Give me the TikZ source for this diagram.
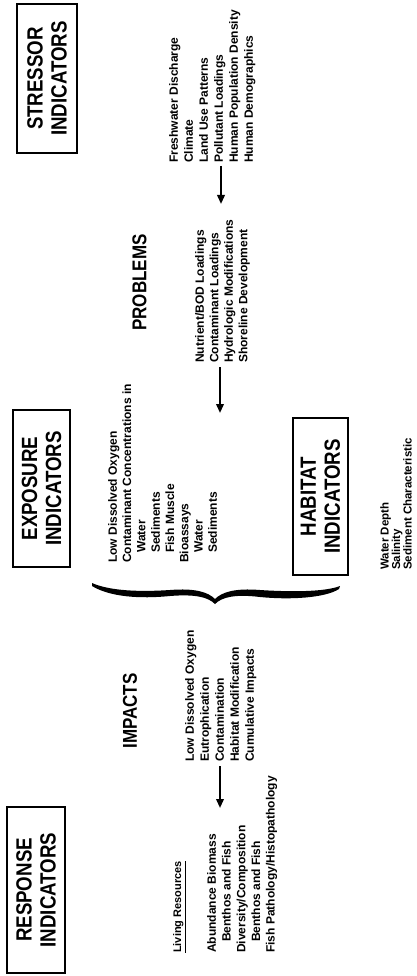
\documentclass[tikz,border=0pt]{standalone}
\usepackage{fontspec}
\setmainfont{Liberation Sans}
\newfontfamily\hdrfont{Liberation Sans}[FakeStretch=0.85]
\usetikzlibrary{arrows.meta}
\tikzset{
  hdrbox/.style={draw, line width=2.2pt, rotate=90, align=center, inner sep=0pt,
    font=\hdrfont\bfseries\fontsize{22}{24}\selectfont},
  hdr/.style={rotate=90, inner sep=0pt, font=\hdrfont\bfseries\fontsize{20}{22}\selectfont},
  lst/.style={rotate=90, anchor=north west, align=left, inner sep=0pt,
    font=\bfseries\fontsize{12}{15}\selectfont},
  arr/.style={line width=2pt, -{Triangle[length=9pt,width=7.5pt]}},
}
\begin{document}
\begin{tikzpicture}[x=1pt,y=-1pt]
\useasboundingbox[fill=white] (0,0) rectangle (416,976);

% boxes
\node[hdrbox, minimum width=149pt, minimum height=60pt] (stressor) at (47,78.5) {STRESSOR\\INDICATORS};
\node[hdrbox, minimum width=157pt, minimum height=57pt] (exposure) at (41.5,488.5) {EXPOSURE\\INDICATORS};
\node[hdrbox, minimum width=157pt, minimum height=55pt] (habitat) at (320.5,496.5) {HABITAT\\INDICATORS};
\node[hdrbox, minimum width=166pt, minimum height=58pt] (response) at (36,890) {RESPONSE\\INDICATORS};

% headers
\node[hdr] (problems) at (139.5,282.5) {PROBLEMS};
\node[hdr] (impacts) at (130,711) {IMPACTS};

% lists
\node[lst] (stresslist) at (169,163) {Freshwater Discharge\\Climate\\Land Use Patterns\\Pollutant Loadings\\Human Population Density\\Human Demographics};
\node[lst, font=\bfseries\fontsize{12}{14.5}\selectfont] (problist) at (195,363) {Nutrient/BOD Loadings\\Contaminant Loadings\\Hydrologic Modifications\\Shoreline Development};
\node[lst, font=\bfseries\fontsize{12}{14.3}\selectfont] (explist) at (108,563) {Low Dissolved Oxygen\\Contaminant Concentrations in\\\hspace*{10pt}Water\\\hspace*{10pt}Sediments\\\hspace*{10pt}Fish Muscle\\Bioassays\\\hspace*{10pt}Water\\\hspace*{10pt}Sediments};
\node[lst, font=\bfseries\fontsize{11.5}{11.5}\selectfont] (hablist) at (380,570) {Water Depth\\Salinity\\Sediment Characteristic};
\node[lst] (implist) at (185,762) {Low Dissolved Oxygen\\Eutrophication\\Contamination\\Habitat Modification\\Cumulative Impacts};
\node[lst, font=\bfseries\fontsize{11}{13}\selectfont] (livres) at (173,953) {\underline{Living Resources}};
\node[lst, font=\bfseries\fontsize{12}{14.7}\selectfont] (resplist) at (207,953) {Abundance Biomass\\\hspace*{11pt}Benthos and Fish\\Diversity/Composition\\\hspace*{11pt}Benthos and Fish\\Fish Pathology/Histopathology};

% arrows
\coordinate (a1s) at (221,166); \coordinate (a1e) at (221,204);
\coordinate (a2s) at (220,367); \coordinate (a2e) at (220,413);
\coordinate (a3s) at (220,766); \coordinate (a3e) at (220,808);
\draw[arr] (a1s) -- (a1e);
\draw[arr] (a2s) -- (a2e);
\draw[arr] (a3s) -- (a3e);

% brace
\fill (92,583) .. controls (110,591) and (140,592) .. (170,590)
  .. controls (195,588) and (208,592) .. (215,599)
  .. controls (222,592) and (235,588) .. (260,590)
  .. controls (290,592) and (325,592) .. (340,586)
  -- (339,589)
  .. controls (325,598) and (290,600) .. (260,597)
  .. controls (235,594) and (222,597) .. (215,604)
  .. controls (208,597) and (195,594) .. (170,596)
  .. controls (140,599) and (110,597) .. (92,586) -- cycle;
\end{tikzpicture}
\end{document}
